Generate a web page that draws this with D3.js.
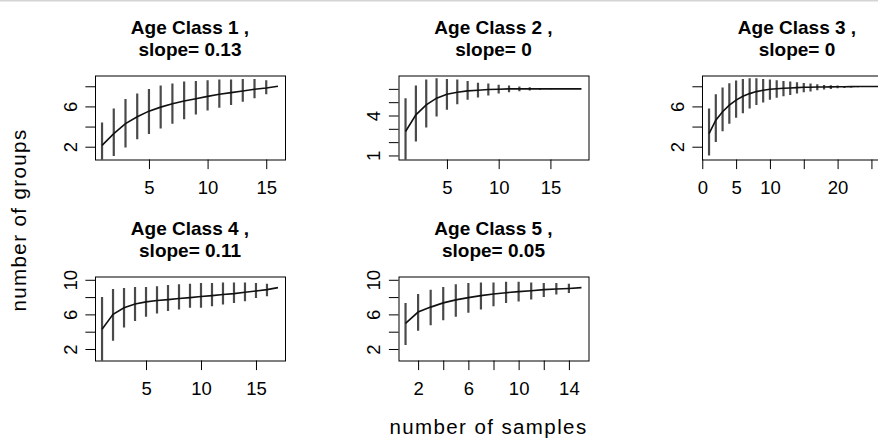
<!DOCTYPE html>
<html lang="en">
<head>
<meta charset="UTF-8">
<title>Groups by number of samples</title>
<script src="https://cdn.jsdelivr.net/npm/d3@7"></script>
<style>
  body { margin: 0; background: #fff; }
  svg text { font-family: "Liberation Sans", Arial, sans-serif; fill: #000; }
</style>
</head>
<body>
<div id="chart"></div>
<script>
// panel titles
var classNames = ['Age Class 1 ,', 'Age Class 2 ,', 'Age Class 3 ,', 'Age Class 4 ,', 'Age Class 5 ,'];
var slopes = ['0.13', '0', '0', '0.11', '0.05'];

// mean number of groups, and the bottom / top of each bar (null = no bar)
var class1Mean = [2.13, 3.3, 4.3, 4.97, 5.53, 5.93, 6.27, 6.53, 6.77, 7.0, 7.2, 7.37, 7.53, 7.7, 7.83, 8.0];
var class1Lo = [-0.1, 1.07, 1.93, 2.73, 3.27, 3.8, 4.27, 4.73, 5.2, 5.6, 5.87, 6.13, 6.47, 6.8, 7.2, null];
var class1Hi = [4.4, 5.8, 6.73, 7.27, 7.73, 8.07, 8.27, 8.47, 8.53, 8.6, 8.67, 8.67, 8.73, 8.73, 8.6, null];

var class2Mean = [2.8, 4.05, 4.8, 5.3, 5.6, 5.75, 5.85, 5.9, 5.95, 5.97, 6.0, 6.0, 6.0, 6.0, 6.0, 6.0, 6.0, 6.0];
var class2Lo = [0.3, 2.05, 3.1, 3.93, 4.43, 4.85, 5.18, 5.35, 5.5, 5.65, 5.75, 5.82, 5.88, 5.94, 5.97, null, null, null];
var class2Hi = [5.3, 6.25, 6.7, 6.8, 6.75, 6.7, 6.6, 6.45, 6.4, 6.3, 6.25, 6.18, 6.12, 6.06, 6.03, null, null, null];

var class3Mean = [3.3, 4.63, 5.47, 6.13, 6.63, 7.0, 7.27, 7.47, 7.6, 7.7, 7.75, 7.8, 7.83, 7.87, 7.9, 7.9, 7.92, 7.93, 7.94, 7.95, 7.95, 7.96, 7.97, 7.97, 7.97, 7.97, 7.97];
var class3Lo = [1.13, 2.47, 3.53, 4.27, 4.87, 5.33, 5.8, 6.13, 6.4, 6.67, 6.87, 7.0, 7.13, 7.27, 7.4, 7.47, 7.6, 7.67, 7.73, 7.8, 7.83, 7.87, 7.9, 7.93, 7.95, null, null];
var class3Hi = [5.8, 7.2, 7.87, 8.3, 8.57, 8.73, 8.8, 8.8, 8.73, 8.67, 8.6, 8.53, 8.47, 8.4, 8.33, 8.27, 8.2, 8.13, 8.1, 8.07, 8.03, 8.02, 8.01, 8.0, 7.99, null, null];

var class4Mean = [4.29, 6.0, 6.76, 7.2, 7.45, 7.6, 7.71, 7.83, 7.94, 8.06, 8.17, 8.29, 8.4, 8.55, 8.7, 8.86, 9.09];
var class4Lo = [0.6, 2.95, 4.48, 5.24, 5.73, 6.11, 6.38, 6.57, 6.76, 6.76, 6.95, 7.14, 7.33, 7.52, 7.9, 8.1, null];
var class4Hi = [8.0, 8.93, 9.05, 9.16, 9.16, 9.24, 9.39, 9.47, 9.54, 9.62, 9.62, 9.7, 9.7, 9.7, 9.62, 9.54, null];

var class5Mean = [4.97, 6.27, 6.84, 7.33, 7.68, 7.94, 8.17, 8.36, 8.51, 8.63, 8.74, 8.86, 8.93, 9.0, 9.09];
var class5Lo = [2.46, 4.1, 4.74, 5.31, 5.73, 6.19, 6.57, 6.95, 7.33, 7.49, 7.71, 8.02, 8.29, 8.48, null];
var class5Hi = [7.33, 8.36, 8.86, 9.16, 9.47, 9.62, 9.7, 9.7, 9.77, 9.77, 9.7, 9.62, 9.62, 9.54, null];

// y limits of each panel (before the usual 4% extension)
var yLims = [[1.04, 8.76], [0.93, 6.77], [1.04, 8.76], [1.03, 10.02], [1.03, 10.02]];

// ticks, and the ticks that carry a label
var yTicks = [[2, 4, 6, 8], [1, 2, 3, 4, 5, 6], [2, 4, 6, 8], [2, 4, 6, 8, 10], [2, 4, 6, 8, 10]];
var yLabels = [[2, 6], [1, 4], [2, 6], [2, 6, 10], [2, 6, 10]];
var xTicks = [[5, 10, 15], [5, 10, 15], [0, 5, 10, 15, 20, 25], [5, 10, 15], [2, 4, 6, 8, 10, 12, 14]];
var xLabels = [[5, 10, 15], [5, 10, 15], [0, 5, 10, 20], [5, 10, 15], [2, 6, 10, 14]];

var means = [class1Mean, class2Mean, class3Mean, class4Mean, class5Mean];
var lows = [class1Lo, class2Lo, class3Lo, class4Lo, class5Lo];
var highs = [class1Hi, class2Hi, class3Hi, class4Hi, class5Hi];

var width = 878, height = 441;
var colStep = 303.5, rowStep = 201;
var plotW = 190, plotH = 84;

var svg = d3.select('#chart').append('svg')
    .attr('width', width)
    .attr('height', height);

svg.append('rect').attr('width', width).attr('height', height).attr('fill', '#fff');
// thin grey line along the top edge
svg.append('rect').attr('width', width).attr('height', 1.5).attr('fill', '#d4d4d4');

// R style axis range: data range padded by 4% on each side
function pad(lim) {
    var d = (lim[1] - lim[0]) * 0.04;
    return [lim[0] - d, lim[1] + d];
}

means.forEach(function (mean, i) {
    var col = i % 3, row = Math.floor(i / 3);
    var left = 95 + col * colStep;
    var top = 75.5 + row * rowStep;

    var n = mean.length;
    var x = d3.scaleLinear().domain(pad([1, n])).range([0, plotW]);
    var y = d3.scaleLinear().domain(pad(yLims[i])).range([plotH, 0]);

    var g = svg.append('g').attr('transform', 'translate(' + left + ',' + top + ')');

    // title, two lines
    var title = g.append('text')
        .attr('x', plotW / 2)
        .attr('text-anchor', 'middle')
        .style('font-weight', 'bold')
        .style('font-size', '19px');
    title.append('tspan').attr('x', plotW / 2).attr('y', -42).text(classNames[i]);
    title.append('tspan').attr('x', plotW / 2).attr('y', -20).text('slope= ' + slopes[i]);

    var clipId = 'clip' + i;
    g.append('clipPath').attr('id', clipId)
        .append('rect').attr('width', plotW).attr('height', plotH);

    var plot = g.append('g').attr('clip-path', 'url(#' + clipId + ')');

    var pts = mean.map(function (m, k) {
        return { x: k + 1, m: m, lo: lows[i][k], hi: highs[i][k] };
    });

    plot.selectAll('line.bar')
        .data(pts.filter(function (d) { return d.lo != null; }))
        .enter().append('line')
        .attr('class', 'bar')
        .attr('x1', function (d) { return x(d.x); })
        .attr('x2', function (d) { return x(d.x); })
        .attr('y1', function (d) { return y(d.lo); })
        .attr('y2', function (d) { return y(d.hi); })
        .attr('stroke', '#4a4a4a')
        .attr('stroke-width', 2.2);

    plot.append('path')
        .datum(pts)
        .attr('fill', 'none')
        .attr('stroke', '#111')
        .attr('stroke-width', 1.6)
        .attr('d', d3.line()
            .x(function (d) { return x(d.x); })
            .y(function (d) { return y(d.m); }));

    // axes
    var yAxis = d3.axisLeft(y)
        .tickValues(yTicks[i])
        .tickSize(9.6)
        .tickFormat(function (v) { return yLabels[i].indexOf(v) >= 0 ? v : ''; });
    var ya = g.append('g').call(yAxis);
    ya.select('.domain').remove();
    ya.selectAll('line').attr('stroke', '#000');
    ya.selectAll('text')
        .attr('transform', 'rotate(-90)')
        .attr('x', 0)
        .attr('y', -18.5)
        .attr('dy', 0)
        .attr('text-anchor', 'middle')
        .style('font-size', '18.5px');

    var xAxis = d3.axisBottom(x)
        .tickValues(xTicks[i])
        .tickSize(9.6)
        .tickFormat(function (v) { return xLabels[i].indexOf(v) >= 0 ? v : ''; });
    var xa = g.append('g').attr('transform', 'translate(0,' + plotH + ')').call(xAxis);
    xa.select('.domain').remove();
    xa.selectAll('line').attr('stroke', '#000');
    xa.selectAll('text')
        .attr('y', 34.5)
        .attr('dy', 0)
        .style('font-size', '18.5px');

    // box round the plot region
    g.append('rect')
        .attr('x', 0.5).attr('y', 0.5)
        .attr('width', plotW).attr('height', plotH)
        .attr('fill', 'none')
        .attr('stroke', '#000')
        .attr('stroke-width', 1);
});

// outer axis titles
svg.append('text')
    .attr('transform', 'translate(26,220) rotate(-90)')
    .attr('text-anchor', 'middle')
    .style('font-size', '20.5px')
    .style('letter-spacing', '1.4px')
    .text('number of groups');

svg.append('text')
    .attr('x', 488.5)
    .attr('y', 434)
    .attr('text-anchor', 'middle')
    .style('font-size', '20.5px')
    .style('letter-spacing', '1.4px')
    .text('number of samples');
</script>
</body>
</html>
